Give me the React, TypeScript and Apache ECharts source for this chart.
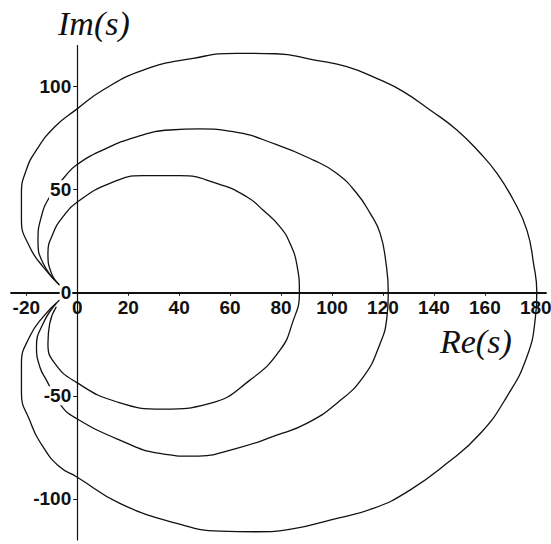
import React, { useEffect, useRef } from "react";
import * as echarts from "echarts";

// Tick values on each axis
const reTicks = [-20, 0, 20, 40, 60, 80, 100, 120, 140, 160, 180];
const imTicks = [-100, -50, 0, 50, 100];

// Loci in the s-plane, [Re, Im], traced from the lower-left end round to the upper-left end
const outerLocus: [number, number][] = [
  [-6.9, -3.5], [-13.4, -11.7], [-18.7, -21.4], [-21.9, -34.3], [-21.9, -48.8],
  [-18.7, -61.8], [-13.4, -74.8], [-6.9, -84.5], [-0.3, -89.3], [16.7, -102.2],
  [39, -111.9], [56, -115.7], [70, -116], [85, -114.5], [99.2, -110.3],
  [116.2, -104.7], [130.6, -95.8], [145.1, -82.8], [158.2, -68.3], [168.6, -50.5],
  [176.5, -31.1], [179.8, -12.4], [180.4, 0], [179.1, 14.3], [176.5, 30.4],
  [171.2, 45], [164.7, 58], [158.2, 67.7], [149, 79], [138.5, 88.7],
  [128, 97.6], [118.9, 103.3], [105.8, 109.7], [92.7, 113], [78, 116],
  [62.5, 116.2], [45.5, 113.8], [25.9, 108.1], [10.1, 98.4], [-0.3, 89],
  [-8.8, 80.6], [-16, 69.3], [-20, 59.6], [-21.9, 48.3], [-21.9, 35.3],
  [-18.7, 22.3], [-13.4, 12.6], [-6.9, 3.7],
];

const middleLocus: [number, number][] = [
  [-8.2, -5.1], [-13.4, -14.9], [-16, -26.2], [-14.7, -35.9], [-12.1, -42.4],
  [-6.5, -54.5], [-0.3, -61], [16.7, -71.5], [32.4, -78], [45.5, -79.3],
  [62.6, -75.5], [78.3, -69.1], [90.1, -63.4], [101.8, -53.7], [112.3, -40.8],
  [118.9, -24.6], [121.5, -12.4], [122.1, 0], [121.2, 14.3], [118.9, 28.8],
  [115, 38.5], [109.7, 48.3], [101.8, 58], [92.7, 64.4], [78, 72],
  [61.2, 78.2], [48.1, 79.5], [36.3, 79], [23.3, 75.7], [10.1, 69.3],
  [-0.3, 62], [-4.9, 56.3], [-10.8, 46.6], [-14.1, 36.9], [-15.4, 25.6],
  [-13.4, 14.3], [-6.9, 3.7],
];

const innerLocus: [number, number][] = [
  [-8.2, -6.8], [-10.8, -14.9], [-11.5, -24.6], [-8.8, -34.3], [-0.3, -43.5],
  [15.4, -52.9], [33.7, -56.5], [52.1, -53.7], [67.8, -42.4], [79.6, -27.8],
  [84.5, -14.5], [87.2, 0], [86.3, 13], [83.5, 24], [79.6, 32],
  [73, 40], [66.5, 46.6], [54.7, 53.1], [40.3, 56.8],
  [25.9, 56.8], [12.8, 53.1], [0, 44], [-5.6, 36.9], [-9.5, 28.8],
  [-11.5, 19.1], [-10.1, 9.4], [-6.9, 3.7],
];

const loci = [outerLocus, middleLocus, innerLocus];

const reMin = -26;
const reMax = 184;
const imMin = -120;
const imMax = 120;

const tickFont = {
  fontFamily: "'Liberation Sans', Arial, sans-serif",
  fontWeight: "bold" as const,
  fontSize: 19,
  color: "#111",
};

export default function App() {
  const ref = useRef<HTMLDivElement>(null);

  useEffect(() => {
    if (!ref.current) return;
    const chart = echarts.init(ref.current, null, { renderer: "svg" });

    const W = 551;
    const H = 544;
    const gridLeft = 11;
    const gridRight = 5;
    const gridTop = 45.5;
    const gridBottom = 4;
    const gw = W - gridLeft - gridRight;
    const gh = H - gridTop - gridBottom;
    // pull each axis from the grid edge onto the other axis's zero
    const xShift = -(gh * (0 - imMin)) / (imMax - imMin);
    const yShift = -(gw * (0 - reMin)) / (reMax - reMin);

    chart.setOption({
      animation: false,
      backgroundColor: "#fff",
      grid: {
        left: gridLeft,
        right: gridRight,
        top: gridTop,
        bottom: gridBottom,
        containLabel: false,
        outerBoundsMode: "none",
      },
      xAxis: {
        type: "value",
        position: "bottom",
        min: reMin,
        max: reMax,
        offset: xShift,
        splitLine: { show: false },
        axisLine: { onZero: false, lineStyle: { color: "#111", width: 1.8 } },
        axisTick: {
          show: true,
          length: 3,
          customValues: reTicks,
          lineStyle: { color: "#111", width: 1 },
        },
        axisLabel: {
          ...tickFont,
          margin: 5,
          customValues: reTicks,
          formatter: (v: number) => String(v),
        },
      },
      yAxis: {
        type: "value",
        position: "left",
        min: imMin,
        max: imMax,
        offset: yShift,
        z: 5,
        splitLine: { show: false },
        axisLine: { onZero: false, lineStyle: { color: "#111", width: 1.2 } },
        axisTick: {
          show: true,
          length: 4,
          customValues: imTicks,
          lineStyle: { color: "#111", width: 1 },
        },
        axisLabel: {
          ...tickFont,
          margin: 5,
          customValues: imTicks,
          backgroundColor: "#fff",
          padding: [0, 1, 0, 1],
          formatter: (v: number) => String(v),
        },
      },
      series: loci.map((d) => ({
        type: "line",
        data: d,
        showSymbol: false,
        smooth: 0.5,
        lineStyle: { color: "#111", width: 1.3 },
        z: 2,
      })),
      graphic: [
        {
          type: "text",
          left: 58,
          top: 6,
          style: {
            text: "Im(s)",
            font: "italic 34px 'Liberation Serif', 'Times New Roman', serif",
            fill: "#111",
          },
        },
        {
          type: "text",
          left: 440,
          top: 324,
          style: {
            text: "Re(s)",
            font: "italic 34px 'Liberation Serif', 'Times New Roman', serif",
            fill: "#111",
          },
        },
      ],
    });
    return () => chart.dispose();
  }, []);

  return (
    <div
      ref={ref}
      style={{ position: "fixed", left: 0, top: 0, width: 551, height: 544 }}
    />
  );
}
